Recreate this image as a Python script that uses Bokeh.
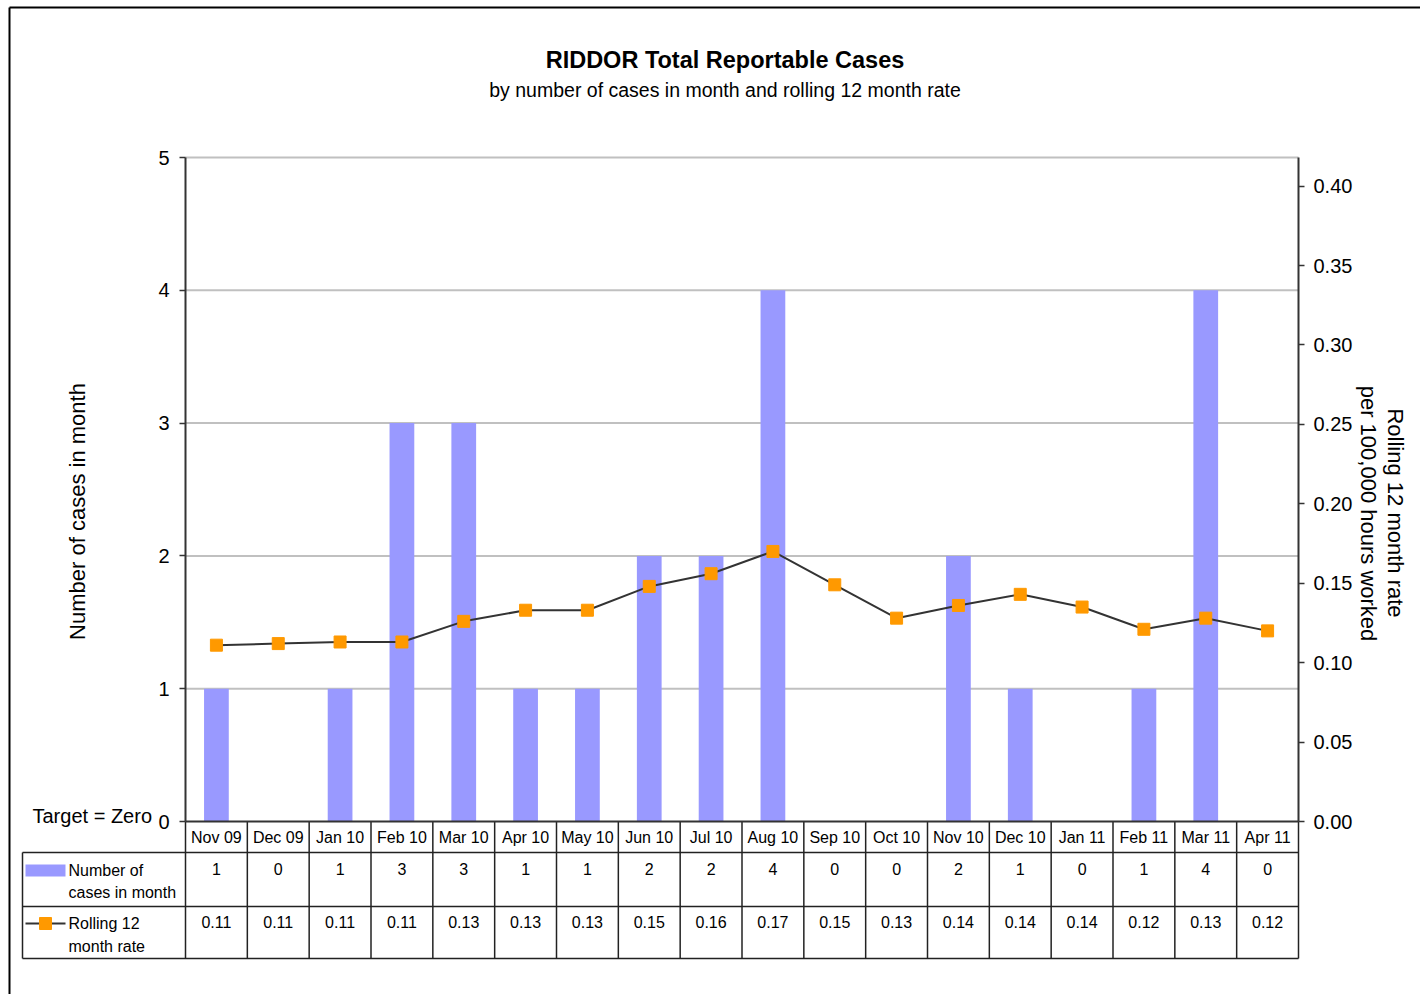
import math
from bokeh.plotting import figure
from bokeh.models import (Range1d, LinearAxis, FixedTicker, NumeralTickFormatter,
                          ColumnDataSource)
from bokeh.core.properties import value
from bokeh.embed import file_html
from bokeh.resources import INLINE

# ---------------- data ----------------
months = ["Nov 09", "Dec 09", "Jan 10", "Feb 10", "Mar 10", "Apr 10", "May 10", "Jun 10", "Jul 10",
          "Aug 10", "Sep 10", "Oct 10", "Nov 10", "Dec 10", "Jan 11", "Feb 11", "Mar 11", "Apr 11"]
cases = [1, 0, 1, 3, 3, 1, 1, 2, 2, 4, 0, 0, 2, 1, 0, 1, 4, 0]
rate = [0.111, 0.112, 0.113, 0.113, 0.126, 0.133, 0.133, 0.148, 0.156, 0.170,
        0.149, 0.128, 0.136, 0.143, 0.135, 0.121, 0.128, 0.120]
left_ticks = [0, 1, 2, 3, 4, 5]
right_ticks = [0.00, 0.05, 0.10, 0.15, 0.20, 0.25, 0.30, 0.35, 0.40]
title_text = "RIDDOR Total Reportable Cases"
subtitle_text = "by number of cases in month and rolling 12 month rate"
left_title = "Number of cases in month"
right_title = ["Rolling 12 month rate", "per 100,000 hours worked"]
legend_cases = ["Number of", "cases in month"]
legend_rate = ["Rolling 12", "month rate"]
target_text = "Target = Zero"

# ---------------- layout (pixel geometry of the chart) ----------------
N = len(months)
FONT = "Liberation Sans"
W, H = 1420, 994
FL, FR, FT, FB = 185, 1298, 157, 821   # plot area in canvas pixels
YMAX = 5
RMAX = 0.418
BAR_C = "#9999ff"
MARK_C = "#ff9900"
LINE_C = "#333333"
GRID_C = "#c0c0c0"
TAB_C = "#222222"


def xd(px):
    return (px - FL) * N / (FR - FL) - 0.5


def yd(py):
    return (FB - py) * YMAX / (FB - FT)


def rd(py):
    return (FB - py) * RMAX / (FB - FT)


p = figure(width=W, height=H, output_backend="svg", toolbar_location=None, tools="",
           x_range=Range1d(xd(0), xd(W)), y_range=Range1d(yd(H), yd(0)),
           min_border_left=0, min_border_right=0, min_border_top=0, min_border_bottom=0)
p.title.visible = False
p.extra_y_ranges = {"rate": Range1d(rd(H), rd(0))}
p.background_fill_color = "white"
p.border_fill_color = "white"
p.outline_line_color = None
p.xgrid.visible = False
p.ygrid.visible = False

xs = list(range(N))
X0, X1 = -0.5, N - 0.5
src = ColumnDataSource(dict(
    x=xs, month=months, cases=cases, rate=rate,
    cases_txt=[str(c) for c in cases],
    rate_txt=[f"{r:.2f}" for r in rate],
))

# horizontal gridlines at the left-axis ticks
gt = left_ticks[1:]
p.segment(x0=[X0] * len(gt), x1=[X1] * len(gt), y0=gt, y1=gt,
          line_color=GRID_C, line_width=2)

# series
p.vbar(x="x", top="cases", bottom=0, width=0.4, source=src,
       fill_color=BAR_C, line_color=None)
p.line(x="x", y="rate", source=src, y_range_name="rate",
       line_color=LINE_C, line_width=2)
p.scatter(x="x", y="rate", source=src, y_range_name="rate", marker="square",
          size=12, fill_color=MARK_C, line_color=MARK_C)

# left axis (drawn at the left edge of the plot area)
ax = p.yaxis[0]
ax.fixed_location = X0
ax.bounds = (0, YMAX)
ax.ticker = FixedTicker(ticks=left_ticks)
ax.major_label_text_font = FONT
ax.major_label_text_font_size = "20px"
ax.major_label_text_color = "black"
ax.major_tick_out = 6
ax.major_tick_in = 0
ax.minor_tick_out = 0
ax.minor_tick_in = 0
ax.major_label_standoff = 10
ax.axis_line_color = LINE_C
ax.axis_line_width = 2
ax.major_tick_line_color = LINE_C
ax.major_tick_line_width = 1.5

# right axis
rax = LinearAxis(y_range_name="rate", ticker=FixedTicker(ticks=right_ticks),
                 formatter=NumeralTickFormatter(format="0.00"))
rax.fixed_location = X1
rax.bounds = (0, RMAX)
rax.major_label_text_font = FONT
rax.major_label_text_font_size = "20px"
rax.major_label_text_color = "black"
rax.major_tick_out = 6
rax.major_tick_in = 0
rax.minor_tick_out = 0
rax.minor_tick_in = 0
rax.major_label_standoff = 9
rax.axis_line_color = LINE_C
rax.axis_line_width = 2
rax.major_tick_line_color = LINE_C
rax.major_tick_line_width = 1.5
p.add_layout(rax, "right")

# bottom axis = month row of the data table
bx = p.xaxis[0]
bx.fixed_location = 0
bx.bounds = (X0, X1)
bx.ticker = FixedTicker(ticks=xs)
bx.major_label_overrides = {i: m for i, m in zip(xs, months)}
bx.major_label_text_font = FONT
bx.major_label_text_font_size = "16px"
bx.major_label_text_color = "black"
bx.major_tick_out = 0
bx.major_tick_in = 0
bx.minor_tick_out = 0
bx.minor_tick_in = 0
bx.major_label_standoff = 7
bx.axis_line_color = LINE_C
bx.axis_line_width = 2

# ---------------- data table grid ----------------
tx0, ty0, tx1, ty1 = [], [], [], []
for k in range(N + 1):
    xb = k - 0.5
    tx0.append(xb); ty0.append(0); tx1.append(xb); ty1.append(yd(958))
tx0.append(xd(22)); ty0.append(yd(852)); tx1.append(xd(22)); ty1.append(yd(958))
for yy in (852, 906, 958):
    tx0.append(xd(22)); ty0.append(yd(yy)); tx1.append(X1); ty1.append(yd(yy))
p.segment(x0=tx0, y0=ty0, x1=tx1, y1=ty1, line_color=TAB_C, line_width=1.5)

# outer chart border (top and left edges are visible)
p.segment(x0=[xd(9), xd(9)], y0=[yd(7), yd(7)], x1=[xd(W + 20), xd(9)], y1=[yd(7), yd(H + 20)],
          line_color="#000000", line_width=2)

# table values
p.text(x="x", y=yd(868), text="cases_txt", source=src, text_font=value(FONT),
       text_font_size=value("16px"), text_align="center", text_baseline="middle",
       text_color="black")
p.text(x="x", y=yd(921), text="rate_txt", source=src, text_font=value(FONT),
       text_font_size=value("16px"), text_align="center", text_baseline="middle",
       text_color="black")

# legend keys inside the table
p.quad(left=[xd(25)], right=[xd(65)], top=[yd(864)], bottom=[yd(876)],
       fill_color=BAR_C, line_color=None)
p.segment(x0=[xd(25)], y0=[yd(923)], x1=[xd(65)], y1=[yd(923)],
          line_color=LINE_C, line_width=2)
p.scatter(x=[xd(45)], y=[yd(923)], marker="square", size=12,
          fill_color=MARK_C, line_color=MARK_C)


def txt(px, py, text, size, align="left", angle=0.0, bold=False):
    p.text(x=[xd(px)], y=[yd(py)], text=[text], text_font=value(FONT),
           text_font_size=value(size), text_align=align, text_baseline="middle",
           text_color="black", angle=angle,
           text_font_style="bold" if bold else "normal")


txt(68, 870, legend_cases[0], "16px")
txt(68, 892, legend_cases[1], "16px")
txt(68, 923, legend_rate[0], "16px")
txt(68, 946, legend_rate[1], "16px")

# titles
txt(724.5, 59, title_text, "23.5px", align="center", bold=True)
txt(724.5, 89, subtitle_text, "19.5px", align="center")

# axis titles
txt(77, 511, left_title, "22px", align="center", angle=math.pi / 2)
txt(1395, 512.5, right_title[0], "22px", align="center", angle=-math.pi / 2)
txt(1368, 513, right_title[1], "22px", align="center", angle=-math.pi / 2)

# target note
txt(32, 815, target_text, "20px")

open("out.html", "w").write(file_html(p, INLINE))
